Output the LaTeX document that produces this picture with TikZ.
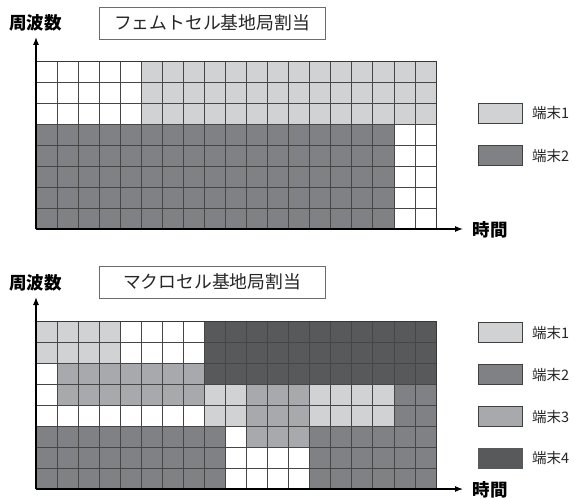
\documentclass[tikz,border=0pt]{standalone}
\usepackage{fontspec}
\newfontfamily\jp{Noto Sans CJK JP}
\usetikzlibrary{arrows.meta}
\definecolor{tA}{HTML}{D1D2D4}
\definecolor{tB}{HTML}{808184}
\definecolor{tC}{HTML}{A7A9AC}
\definecolor{tD}{HTML}{58595B}
\definecolor{gline}{HTML}{464646}
\tikzset{
  gridline/.style={draw=gline, line width=0.7bp},
  frameline/.style={draw=gline!80!black, line width=0.9bp},
  axisline/.style={draw=black, line width=1.1bp, -{Latex[length=8bp,width=6bp]}},
  titlebox/.style={draw=gray!85!black, line width=0.6bp, minimum width=226bp, minimum height=32bp, inner sep=0pt, font=\jp\fontsize{17.8bp}{19bp}\selectfont, text=black!85},
  axislabel/.style={inner sep=0pt, font=\jp\bfseries\fontsize{17.5bp}{19bp}\selectfont},
  legbox/.style={draw=black!75, line width=0.8bp, minimum width=44bp, minimum height=20bp, inner sep=0pt},
  legtext/.style={anchor=west, inner sep=0pt, font=\jp\fontsize{14.5bp}{16bp}\selectfont, text=black!85}
}
\newcommand{\cellfill}[5]{\fill[#5] ({36+#1*400/19},{61+#3*21}) rectangle ({36+#2*400/19},{61+#4*21});}
\newcommand{\gridlines}{%
  \foreach \i in {1,...,18} \draw[gridline] ({36+\i*400/19},61) -- ({36+\i*400/19},229);
  \foreach \j in {1,...,7} \draw[gridline] (36,{61+\j*21}) -- (436,{61+\j*21});
  \draw[frameline] (36,61) rectangle (436,229);}
\begin{document}
\begin{tikzpicture}[x=1bp,y=-1bp]
\useasboundingbox (0,0) rectangle (574,499);
\fill[white] (0,0) rectangle (574,499);
% ---------- top panel ----------
\begin{scope}
  \cellfill{5}{19}{0}{3}{tA}
  \cellfill{0}{17}{3}{8}{tB}
  \gridlines
  \coordinate (o1) at (36,229);
  \coordinate (y1) at (36,37);
  \coordinate (x1) at (463,229);
  \draw[axisline] (o1) -- (y1);
  \draw[axisline] (o1) -- (x1);
  \node[axislabel] (f1) at (35.5,22.5) {周波数};
  \node[axislabel] (t1) at (490,229.5) {時間};
  \node[titlebox] (ttl1) at (212,23) {フェムトセル基地局割当};
\end{scope}
\node[legbox, fill=tA] (la1) at (500,113) {};
\node[legtext] (lt1) at (532,113) {端末1};
\node[legbox, fill=tB] (lb1) at (500,155.5) {};
\node[legtext] (lt2) at (532,155.5) {端末2};
% ---------- bottom panel ----------
\begin{scope}[yshift=-260bp]
  \cellfill{0}{4}{0}{2}{tA}
  \cellfill{8}{10}{3}{5}{tA}
  \cellfill{13}{17}{3}{5}{tA}
  \cellfill{8}{19}{0}{3}{tD}
  \cellfill{1}{8}{2}{4}{tC}
  \cellfill{10}{13}{3}{6}{tC}
  \cellfill{17}{19}{3}{5}{tB}
  \cellfill{0}{9}{5}{8}{tB}
  \cellfill{13}{19}{5}{8}{tB}
  \gridlines
  \coordinate (o2) at (36,229);
  \coordinate (y2) at (36,37);
  \coordinate (x2) at (463,229);
  \draw[axisline] (o2) -- (y2);
  \draw[axisline] (o2) -- (x2);
  \node[axislabel] (f2) at (35.5,22.5) {周波数};
  \node[axislabel] (t2) at (490,229.5) {時間};
  \node[titlebox] (ttl2) at (212,22) {マクロセル基地局割当};
\end{scope}
\node[legbox, fill=tA] (la2) at (500,332.5) {};
\node[legtext] (lu1) at (532,332.5) {端末1};
\node[legbox, fill=tB] (lb2) at (500,374.5) {};
\node[legtext] (lu2) at (532,374.5) {端末2};
\node[legbox, fill=tC] (lc2) at (500,416.5) {};
\node[legtext] (lu3) at (532,416.5) {端末3};
\node[legbox, fill=tD, draw=tD] (ld2) at (500,458) {};
\node[legtext] (lu4) at (532,458) {端末4};
\end{tikzpicture}
\end{document}
